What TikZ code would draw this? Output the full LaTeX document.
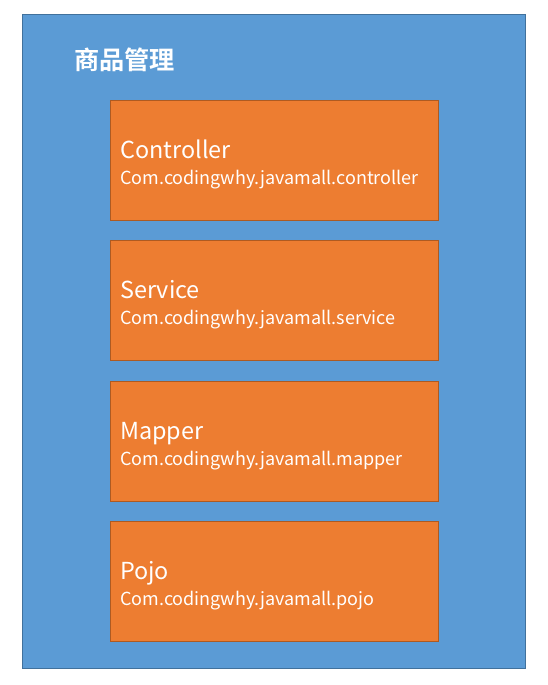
\documentclass[tikz,border=0pt]{standalone}
\usepackage{fontspec}
\setmainfont{Noto Sans CJK SC}
\newfontfamily\cjkbold[BoldFont={Noto Sans CJK SC Bold}]{Noto Sans CJK SC}
\definecolor{groupblue}{HTML}{5B9BD5}
\definecolor{groupline}{HTML}{41719C}
\definecolor{layerorange}{HTML}{ED7D31}
\definecolor{layerline}{HTML}{AE5A21}
\tikzset{
  layerbox/.style={draw=layerline, fill=layerorange, line width=0.8pt},
  layername/.style={anchor=base west, inner sep=0pt, text=white, font=\fontsize{23.4}{23.4}\selectfont},
  layerpkg/.style={anchor=base west, inner sep=0pt, text=white, font=\fontsize{18}{18}\selectfont}
}

\begin{document}
\begin{tikzpicture}[x=1pt, y=-1pt]
  \useasboundingbox (0,0) rectangle (548,685);

  % Module frame
  \draw[groupline, fill=groupblue, line width=0.8pt] (22,14) rectangle (525,668);
  \node[anchor=west, inner sep=0pt, text=white, font=\cjkbold\bfseries\fontsize{25.2}{25.2}\selectfont] (title) at (74,60) {商品管理};

  % Layers
  \foreach \i/\y/\name/\pkg in {1/100/Controller/controller, 2/240/Service/service, 3/381/Mapper/mapper, 4/521/Pojo/pojo} {
    \draw[layerbox] (110,\y) rectangle (438,\y+120);
    \node[layername] (name\i) at (120,\y+58) {\name};
    \node[layerpkg] (pkg\i) at (120,\y+84) {Com.codingwhy.javamall.\pkg};
  }
\end{tikzpicture}
\end{document}
